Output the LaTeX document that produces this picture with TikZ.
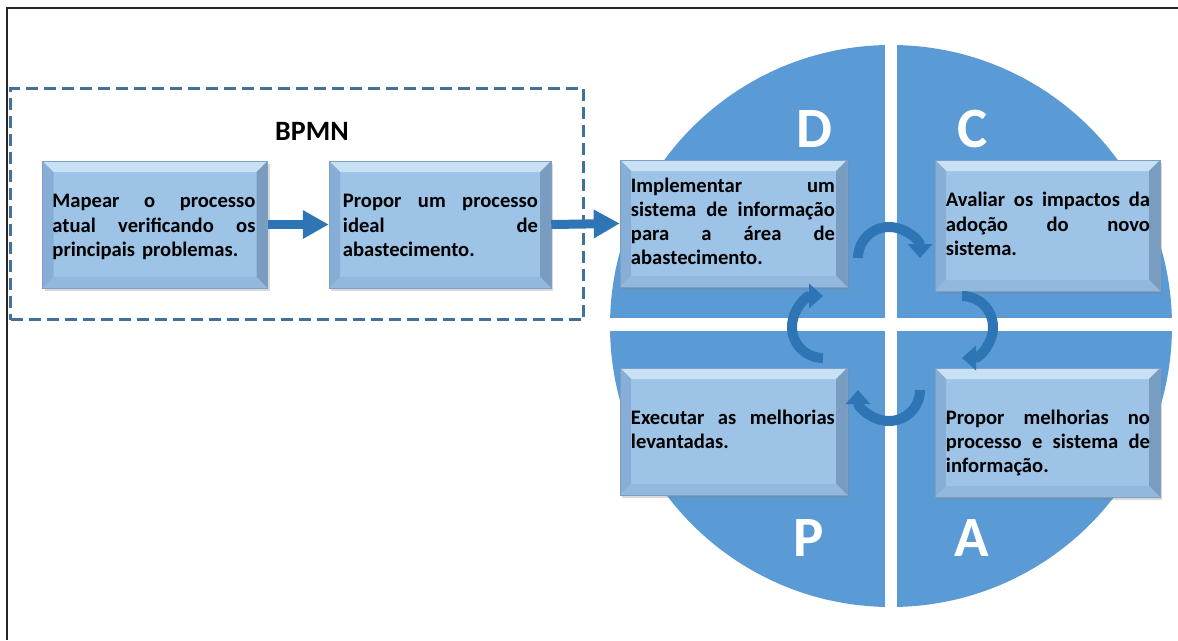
\documentclass[tikz,border=0pt]{standalone}
\usepackage{fontspec}
\setmainfont{Carlito}
\usetikzlibrary{arrows.meta,shadows}

\definecolor{pdcaBlue}{HTML}{5B9BD5}
\definecolor{cycleBlue}{HTML}{2E75B6}
\definecolor{boxMid}{HTML}{9DC3E6}
\definecolor{boxTop}{HTML}{C8E1F5}
\definecolor{boxSide}{HTML}{86AED6}
\definecolor{boxBottom}{HTML}{92B8DD}
\definecolor{boxLine}{HTML}{7E9FC4}
\definecolor{groupBlue}{HTML}{41719C}

\setlength{\parindent}{0pt}
\newlength\blockwidth
\newcommand\boxfont{\bfseries\fontsize{20.6}{24.2}\selectfont}
% one justified line of a text block: the word spaces stretch to fill it
\newcommand\fullline[1]{\hbox to \blockwidth{\spaceskip=.23em plus 1fil\relax #1}\par}

\begin{document}
\begin{tikzpicture}[x=1pt,y=-1pt,
  bevelbox/.style={draw=boxLine, line width=.5pt, fill=boxMid, inner sep=0pt,
    drop shadow={shadow xshift=2pt,shadow yshift=-3pt,opacity=.3},
    path picture={
      \path (path picture bounding box.north west) coordinate (nw)
            (path picture bounding box.north east) coordinate (ne)
            (path picture bounding box.south west) coordinate (sw)
            (path picture bounding box.south east) coordinate (se);
      \fill[boxTop] (nw) -- (ne) -- ([shift={(-11,11)}]ne) -- ([shift={(11,11)}]nw) -- cycle;
      \fill[boxSide] (nw) -- ([shift={(11,11)}]nw) -- ([shift={(11,-11)}]sw) -- (sw) -- cycle;
      \fill[boxSide!90!black] (ne) -- (se) -- ([shift={(-11,-11)}]se) -- ([shift={(-11,11)}]ne) -- cycle;
      \fill[boxBottom] (sw) -- (se) -- ([shift={(-11,-11)}]se) -- ([shift={(11,-11)}]sw) -- cycle;
    }},
  boxtext/.style={inner sep=0pt, anchor=north west, text width=#1, font=\boxfont,
    execute at begin node={\setlength\blockwidth{#1}}},
  letter/.style={anchor=base, text=white, font=\bfseries\fontsize{57}{60}\selectfont},
  blockarrow/.style={draw=cycleBlue, line width=9pt, -{Triangle[width=27pt,length=26pt]}},
  cyclearrow/.style={draw=cycleBlue, line width=10pt, -{Triangle[width=24pt,length=14pt]}},
]
\useasboundingbox (0,0) rectangle (1178,640);

% page frame
\draw[line width=2.2pt, black!85, line join=miter] (7,640) -- (7,8) -- (1178,8);

% PDCA disc split into quarters
\fill[pdcaBlue] (891,326) circle (281);
\fill[white] (885,40) rectangle (897,612);
\fill[white] (600,318) rectangle (1178,331);

\node[letter] (letterD) at (814,147) {D};
\node[letter] (letterC) at (973,147) {C};
\node[letter] (letterP) at (809,556) {P};
\node[letter] (letterA) at (972,556) {A};

% BPMN group
\node[draw=groupBlue, line width=3pt, dash pattern=on 12pt off 6pt,
      minimum width=573pt, minimum height=231pt, inner sep=0pt] (bpmnGroup) at (297,204) {};
\node[anchor=base, font=\bfseries\fontsize{28}{30}\selectfont] (bpmnTitle) at (312,140) {BPMN};

% process boxes
\node[bevelbox, minimum width=225pt, minimum height=127pt] (map) at (155,224.5) {};
\node[bevelbox, minimum width=222pt, minimum height=127pt] (ideal) at (440,224.5) {};
\node[bevelbox, minimum width=227pt, minimum height=127pt] (doBox) at (733.5,223.5) {};
\node[bevelbox, minimum width=225pt, minimum height=131pt] (checkBox) at (1047.5,225.5) {};
\node[bevelbox, minimum width=227pt, minimum height=127pt] (planBox) at (733.5,431.5) {};
\node[bevelbox, minimum width=225pt, minimum height=129pt] (actBox) at (1047.5,432.5) {};

\node[boxtext=203pt] (mapText) at ([shift={(10,30)}]map.north west)
  {\fullline{\strut Mapear o processo}\fullline{atual verificando os}principais problemas.};
\node[boxtext=195pt] (idealText) at ([shift={(14,30)}]ideal.north west)
  {\fullline{\strut Propor um processo}\fullline{ideal de}abastecimento.};
\node[boxtext=204pt] (doText) at ([shift={(11,15.5)}]doBox.north west)
  {\fullline{\strut Implementar um}\fullline{sistema de informação}\fullline{para a área de}abastecimento.};
\node[boxtext=204pt] (checkText) at ([shift={(11,30)}]checkBox.north west)
  {\fullline{\strut Avaliar os impactos da}\fullline{adoção do novo}sistema.};
\node[boxtext=204pt] (planText) at ([shift={(11,39.5)}]planBox.north west)
  {\fullline{\strut Executar as melhorias}levantadas.};
\node[boxtext=204pt] (actText) at ([shift={(11,39.5)}]actBox.north west)
  {\fullline{\strut Propor melhorias no}\fullline{processo e sistema de}informação.};

% flow between the boxes
\draw[blockarrow] (map.east) -- (ideal.west);
\draw[blockarrow] (ideal.east) -- (doBox.west);

% cycle arrows around the centre of the disc
\coordinate (cycleTop) at (858,258);
\coordinate (cycleRight) at (962,296);
\coordinate (cycleBottom) at (920,390);
\coordinate (cycleLeft) at (823,358);
\draw[cyclearrow] (cycleTop) arc[start angle=180, end angle=360, radius=31];
\draw[cyclearrow] (cycleRight) arc[start angle=-90, end angle=90, radius=31];
\draw[cyclearrow] (cycleBottom) arc[start angle=0, end angle=180, radius=31];
\draw[cyclearrow] (cycleLeft) arc[start angle=90, end angle=270, radius=31];
\end{tikzpicture}
\end{document}
